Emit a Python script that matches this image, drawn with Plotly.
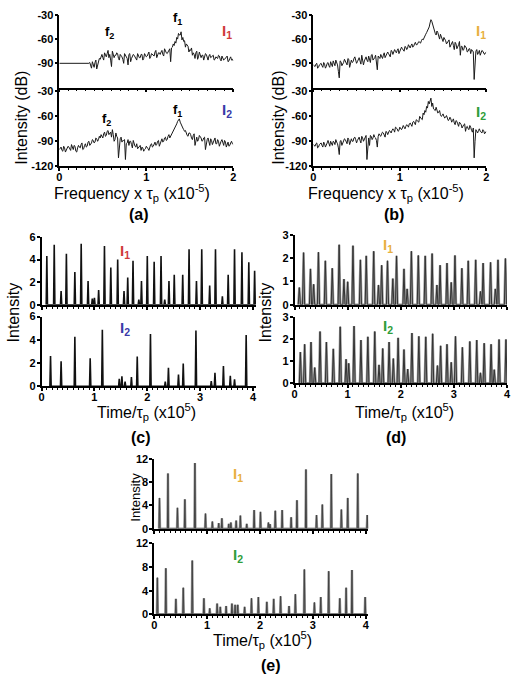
import numpy as np
import plotly.graph_objects as go

W, H = 512, 690

# ---------------- data ----------------
FREQ = np.linspace(0, 2, 101).tolist()
FREQ_MID = np.linspace(0.01, 1.99, 100).tolist()

SPEC_A_I1 = [-90]*18 + [
    -92, -88, -95, -86, -93, -84, -80, -83, -77, -82, -74, -79, -94, -78, -80, -77, -84, -79,
    -82, -90, -80, -84, -79, -88, -81, -80, -85, -78, -83, -79, -86, -78, -82, -77, -84, -78,
    -80, -76, -83, -77, -79, -74, -81, -75, -78, -73, -88, -70, -68, -65, -60, -55, -51, -58,
    -62, -66, -69, -73, -71, -77, -84, -75, -82, -79, -80, -86, -78, -84, -81, -83, -80, -86,
    -82, -84, -81, -87, -83, -85, -82, -88, -84, -86, -83, -87]
SPEC_A_I1_MID = [-90]*17 + [
    -89, -96, -91, -89, -97, -88, -85, -79,
    -86, -80, -78, -83, -86, -75, -83, -80, -78, -86, -80, -85, -78, -82, -92, -78, -84, -79, -82, -86, -80, -83, -79, -84, -80,
    -81, -76, -82, -79, -81, -74, -80, -77, -76, -79, -72, -77, -76, -72, -71, -66, -63, -58, -53, -55, -61, -63, -70, -67, -76,
    -74, -80, -79, -77, -85, -76, -83, -80, -81, -79, -86, -79, -82, -80, -85, -83, -80, -85, -81, -86, -84, -81, -87, -82, -85]

SPEC_A_I2 = [
    -100, -97, -102, -98, -101, -96, -99, -94, -100, -96, -103, -95, -98, -92, -99, -93, -96, -90,
    -94, -88, -92, -86, -90, -84, -82, -86, -79, -83, -77, -80, -85, -82, -88, -84, -110, -87,
    -91, -89, -112, -92, -95, -90, -98, -93, -97, -99, -96, -101, -98, -100, -96, -99, -95, -93,
    -96, -91, -94, -89, -92, -87, -90, -85, -88, -82, -84, -79, -76, -72, -66, -63, -70, -74,
    -78, -81, -84, -80, -86, -83, -95, -85, -88, -84, -90, -86, -100, -88, -92, -87, -94, -89,
    -93, -88, -96, -90, -94, -89, -97, -91, -95, -90, -94]
SPEC_A_I2_MID = [
    -99, -101, -96, -103, -98, -97, -101, -97, -95, -102, -98, -97, -94, -100, -95, -97, -91, -95, -92, -89, -91, -87, -88, -86, -84,
    -81, -84, -78, -82, -79, -76, -90, -80, -86, -91, -85, -89, -88, -93, -88, -90, -94, -89, -96, -93, -98, -95, -97, -102, -99,
    -97, -101, -94, -97, -92, -95, -90, -96, -88, -91, -86, -89, -84, -86, -81, -78, -74, -69, -64, -67, -72, -76, -77, -83, -80,
    -82, -88, -81, -87, -90, -83, -86, -89, -85, -92, -86, -95, -89, -91, -86, -93, -90, -92, -88, -95, -91, -93, -96, -92, -93]

SPEC_B_I1 = [
    -92, -94, -90, -95, -91, -93, -89, -96, -90, -93, -88, -94, -89, -86, -92, -108, -88, -91,
    -85, -90, -84, -95, -86, -88, -82, -90, -84, -87, -80, -92, -83, -86, -81, -89, -79, -85,
    -80, -98, -82, -79, -84, -77, -81, -76, -80, -74, -79, -73, -77, -72, -76, -70, -74, -69,
    -73, -67, -71, -66, -69, -64, -67, -63, -65, -60, -58, -54, -50, -45, -36, -42, -50, -55,
    -52, -60, -57, -63, -60, -66, -62, -70, -65, -68, -64, -72, -67, -80, -69, -73, -70, -76,
    -72, -78, -74, -110, -75, -79, -74, -78, -75, -79, -76]
SPEC_B_I1_MID = [
    -93, -91, -96, -92, -90, -95, -91, -94, -89, -95, -91, -87, -93, -90, -100, -87, -93, -89, -87, -92, -85, -90, -89, -84, -86,
    -88, -83, -91, -85, -87, -82, -88, -84, -80, -86, -83, -90, -81, -84, -82, -80, -83, -79, -78, -82, -75, -77, -75, -74, -78,
    -73, -72, -75, -70, -71, -69, -68, -70, -66, -67, -65, -64, -62, -61, -56, -52, -48, -40, -38, -47, -53, -50, -57, -54, -61,
    -58, -62, -64, -61, -67, -63, -73, -66, -70, -63, -69, -74, -68, -71, -75, -72, -73, -76, -95, -73, -77, -80, -74, -78, -77]

SPEC_B_I2 = [
    -94, -96, -92, -97, -93, -95, -91, -97, -92, -94, -90, -95, -91, -88, -93, -106, -89, -92,
    -87, -91, -86, -94, -87, -90, -85, -92, -86, -89, -84, -90, -85, -112, -86, -83, -88, -82,
    -86, -97, -81, -84, -79, -83, -78, -82, -77, -80, -75, -79, -74, -78, -73, -76, -71, -75,
    -70, -73, -68, -72, -66, -70, -65, -67, -62, -64, -58, -55, -50, -45, -38, -44, -52, -49,
    -56, -53, -60, -57, -62, -59, -65, -61, -67, -63, -70, -66, -72, -68, -74, -70, -78, -72,
    -76, -73, -79, -110, -76, -80, -75, -79, -76, -81, -78]
SPEC_B_I2_MID = [
    -95, -93, -98, -94, -92, -97, -93, -95, -89, -96, -93, -90, -94, -91, -98, -90, -95, -89, -88, -93, -88, -91, -90, -86, -88,
    -89, -85, -92, -86, -88, -83, -92, -95, -84, -86, -85, -89, -84, -83, -81, -80, -85, -79, -80, -78, -77, -76, -73, -75, -77,
    -75, -74, -73, -72, -71, -69, -70, -67, -68, -64, -66, -60, -63, -56, -53, -48, -42, -40, -48, -51, -53, -54, -55, -58, -59,
    -60, -61, -62, -64, -63, -65, -68, -65, -69, -67, -70, -71, -69, -73, -75, -71, -77, -74, -90, -78, -77, -78, -80, -77, -80]

# pulse trains: (time x1e5 / tau_p, peak height)
C_I1_T = [0.10, 0.24, 0.37, 0.47, 0.63, 0.75, 0.88, 0.96, 1.00, 1.08, 1.19, 1.31, 1.44, 1.56, 1.63,
          1.73, 1.84, 1.89, 2.00, 2.13, 2.26, 2.33, 2.41, 2.51, 2.67, 2.79, 2.93, 3.03, 3.18, 3.29,
          3.42, 3.53, 3.65, 3.79, 3.92, 4.03]
C_I1_H = [4.3, 5.3, 1.2, 4.5, 2.9, 5.4, 2.1, 0.55, 0.6, 1.3, 5.2, 3.3, 4.0, 1.2, 2.4,
          3.9, 0.45, 2.1, 4.3, 3.8, 4.3, 0.45, 2.1, 2.65, 2.65, 4.9, 2.1, 4.9, 1.7, 4.9,
          0.75, 2.65, 4.9, 4.65, 3.75, 3.0]
C_I2_T = [0.17, 0.37, 0.63, 0.92, 1.15, 1.47, 1.52, 1.58, 1.70, 1.81, 2.06, 2.34, 2.40, 2.59, 2.68,
          2.92, 3.21, 3.28, 3.44, 3.57, 3.65, 3.87]
C_I2_H = [2.6, 2.15, 4.25, 2.4, 4.85, 0.65, 0.85, 0.4, 0.8, 2.55, 4.5, 0.4, 1.6, 1.0, 1.95,
          4.8, 0.45, 1.15, 1.75, 0.9, 0.6, 4.4]

D_I1_T = [0.09, 0.17, 0.30, 0.36, 0.45, 0.58, 0.71, 0.84, 0.93, 1.00, 1.10, 1.24, 1.35, 1.49, 1.58,
          1.64, 1.75, 1.85, 1.92, 2.06, 2.12, 2.20, 2.33, 2.46, 2.59, 2.68, 2.74, 2.87, 2.95, 3.02,
          3.15, 3.27, 3.41, 3.50, 3.55, 3.69, 3.78, 3.83, 3.97]
D_I1_H = [0.74, 2.24, 1.54, 0.88, 2.26, 1.89, 1.57, 2.58, 1.1, 0.99, 2.54, 1.93, 2.1, 2.3, 0.85,
          1.7, 1.89, 1.12, 2.1, 1.54, 0.68, 2.3, 2.12, 2.1, 2.2, 0.85, 1.7, 1.79, 0.96, 2.12,
          1.57, 1.89, 1.93, 0.57, 1.79, 1.82, 0.68, 1.93, 1.99]
D_I2_T = [0.11, 0.19, 0.31, 0.38, 0.48, 0.60, 0.73, 0.86, 0.97, 1.02, 1.12, 1.25, 1.38, 1.51, 1.59,
          1.66, 1.78, 1.86, 1.95, 2.06, 2.13, 2.21, 2.34, 2.47, 2.60, 2.69, 2.75, 2.87, 2.95, 3.03,
          3.16, 3.30, 3.43, 3.50, 3.57, 3.70, 3.76, 3.85, 3.98]
D_I2_H = [1.42, 1.78, 1.88, 0.72, 2.36, 1.88, 1.57, 2.58, 1.1, 0.91, 2.61, 1.97, 2.12, 2.36, 0.84,
          1.59, 1.88, 1.13, 2.07, 1.54, 0.65, 2.29, 2.14, 2.12, 2.26, 0.81, 1.71, 1.78, 0.96, 2.14,
          1.64, 1.91, 1.97, 0.48, 1.83, 1.78, 0.62, 2.0, 2.0]

E_I1_T = [0.10, 0.26, 0.44, 0.58, 0.77, 0.97, 1.10, 1.22, 1.28, 1.41, 1.45, 1.55, 1.63, 1.75, 1.89,
          2.01, 2.16, 2.19, 2.29, 2.42, 2.59, 2.70, 2.87, 3.07, 3.18, 3.35, 3.54, 3.66, 3.85, 4.03]
E_I1_H = [5.3, 9.5, 3.6, 5.05, 11.3, 2.6, 1.24, 0.95, 1.8, 0.84, 1.07, 1.4, 2.25, 0.84, 3.2,
          2.9, 1.07, 0.8, 3.1, 3.2, 1.97, 4.9, 10.2, 2.36, 4.16, 9.4, 3.3, 5.3, 9.5, 2.36]
E_I2_T = [0.06, 0.22, 0.41, 0.55, 0.72, 0.94, 1.05, 1.19, 1.25, 1.36, 1.47, 1.53, 1.58, 1.71, 1.84,
          1.97, 2.13, 2.26, 2.39, 2.55, 2.67, 2.84, 3.03, 3.15, 3.30, 3.51, 3.63, 3.74, 3.99]
E_I2_H = [6.2, 7.8, 2.6, 4.5, 9.1, 2.7, 1.0, 1.8, 1.25, 1.4, 1.8, 1.6, 1.6, 1.25, 2.7,
          2.9, 2.1, 2.6, 3.05, 1.4, 3.4, 7.6, 2.0, 2.9, 7.3, 2.7, 4.5, 7.5, 2.9]


def spikes(ts, hs, dt):
    x, y = [], []
    for t, h in zip(ts, hs):
        x += [t - dt, t, t + dt]
        y += [0, h, 0]
    return x, y


def merge(main, mid):
    x, y = [], []
    for i in range(len(mid)):
        x += [FREQ[i], FREQ_MID[i]]
        y += [main[i], mid[i]]
    x.append(FREQ[-1])
    y.append(main[-1])
    return x, y


# ---------------- layout geometry (pixels) ----------------
panels = [
    (57, 233, [0, 2], 9, 83, [-120, -30], [-90, -60, -30], False),
    (57, 233, [0, 2], 87, 163, [-120, -30], [-120, -90, -60, -30], True),
    (314, 489, [0, 2], 9, 83, [-120, -30], [-90, -60, -30], False),
    (314, 489, [0, 2], 87, 163, [-120, -30], [-120, -90, -60, -30], True),
    (39, 39 + 4.06 * 53.5, [0, 4.06], 235, 304, [0, 6], [0, 2, 4, 6], False),
    (39, 39 + 4.06 * 53.5, [0, 4.06], 316, 387, [0, 6], [0, 2, 4, 6], True),
    (295, 510, [0, 4], 233, 304, [0, 3], [0, 1, 2, 3], False),
    (295, 510, [0, 4], 317, 384, [0, 3], [0, 1, 2, 3], True),
    (153, 153 + 4.05 * 53.5, [0, 4.05], 461, 532, [0, 12], [0, 4, 8, 12], False),
    (153, 153 + 4.05 * 53.5, [0, 4.05], 547, 619, [0, 12], [0, 4, 8, 12], True),
]

FONT = "Arial, Liberation Sans, sans-serif"
fig = go.Figure()
layout = dict(width=W, height=H, margin=dict(l=0, r=0, t=0, b=0),
              paper_bgcolor="white", plot_bgcolor="white", showlegend=False)

for i, (x0, x1, xr, pt, pb, yr, yt, showx) in enumerate(panels):
    n = i + 1
    xa = "xaxis" if n == 1 else f"xaxis{n}"
    ya = "yaxis" if n == 1 else f"yaxis{n}"
    xtv = [0, 1, 2] if xr[1] <= 2 else [0, 1, 2, 3, 4]
    layout[xa] = dict(domain=[x0 / W, x1 / W], range=xr, anchor=f"y{n}" if n > 1 else "y",
                      showline=True, linecolor="black", linewidth=1.6, showgrid=False, zeroline=False,
                      ticks="outside", ticklen=3, tickwidth=1.5, tickcolor="black",
                      tickvals=xtv, showticklabels=showx, ticklabelstandoff=-3,
                      tickfont=dict(family=FONT, size=11, color="black", weight="bold"),
                      minor=dict(ticks="outside", ticklen=2, tickwidth=1, dtick=0.1, tickcolor="black"))
    layout[ya] = dict(domain=[1 - pb / H, 1 - pt / H], range=yr, anchor=f"x{n}" if n > 1 else "x",
                      showline=True, linecolor="black", linewidth=1.6, showgrid=False, zeroline=False,
                      ticks="outside", ticklen=3, tickwidth=1.5, tickcolor="black",
                      tickvals=yt, ticktext=[str(v) for v in yt], ticklabelstandoff=-1,
                      tickfont=dict(family=FONT, size=11, color="black", weight="bold"))

def xy(n):
    return ("x" if n == 1 else f"x{n}"), ("y" if n == 1 else f"y{n}")

# spectra
for n, spec, mid in [(1, SPEC_A_I1, SPEC_A_I1_MID), (2, SPEC_A_I2, SPEC_A_I2_MID),
                     (3, SPEC_B_I1, SPEC_B_I1_MID), (4, SPEC_B_I2, SPEC_B_I2_MID)]:
    xa, ya = xy(n)
    sx, sy = merge(spec, mid)
    fig.add_trace(go.Scatter(x=sx, y=sy, mode="lines", line=dict(color="#1a1a1a", width=1),
                             xaxis=xa, yaxis=ya, hoverinfo="skip"))

# pulse trains
for n, ts, hs, dt, col, w, under in [
        (5, C_I1_T, C_I1_H, 0.012, "#111111", 1.6, None),
        (6, C_I2_T, C_I2_H, 0.012, "#111111", 1.6, None),
        (7, D_I1_T, D_I1_H, 0.02, "#333333", 1.0, "#9a9a9a"),
        (8, D_I2_T, D_I2_H, 0.02, "#333333", 1.0, "#9a9a9a"),
        (9, E_I1_T, E_I1_H, 0.01, "#444444", 1.0, "#9a9a9a"),
        (10, E_I2_T, E_I2_H, 0.01, "#444444", 1.0, "#9a9a9a")]:
    xa, ya = xy(n)
    sx, sy = spikes(ts, hs, dt)
    if under:
        fig.add_trace(go.Scatter(x=sx, y=sy, mode="lines", line=dict(color=under, width=2.4),
                                 xaxis=xa, yaxis=ya, hoverinfo="skip"))
    fig.add_trace(go.Scatter(x=sx, y=sy, mode="lines", line=dict(color=col, width=w),
                             xaxis=xa, yaxis=ya, hoverinfo="skip"))

ann = []
def text(px, py, s, size=16, color="black", angle=0, bold=False):
    ann.append(dict(x=px / W, y=1 - py / H, xref="paper", yref="paper", text=s, showarrow=False,
                    xanchor="center", yanchor="middle", textangle=angle,
                    font=dict(family=FONT, size=size, color=color, weight="bold" if bold else "normal")))

RED, BLUE, ORANGE, GREEN = "#d03a3a", "#3a3aa8", "#e8b040", "#2f9e3a"
I1 = "I<sub>1</sub>"
I2 = "I<sub>2</sub>"
# y titles
text(18, 114, "Intensity (dB)", 16, angle=-90)
text(278, 114, "Intensity (dB)", 16, angle=-90)
text(11, 312, "Intensity", 16, angle=-90)
text(266, 312, "Intensity", 16, angle=-90)
text(134, 500, "Intensity", 13, angle=-90)
# x titles
text(131, 190, "Frequency x τ<sub>p</sub> (x10<sup>-5</sup>)", 16)
text(388, 190, "Frequency x τ<sub>p</sub> (x10<sup>-5</sup>)", 16)
text(145, 413, "Time/τ<sub>p</sub> (x10<sup>5</sup>)", 16)
text(406, 413, "Time/τ<sub>p</sub> (x10<sup>5</sup>)", 16)
text(263, 645, "Time/τ<sub>p</sub> (x10<sup>5</sup>)", 16)
# panel letters
text(138, 212, "(a)", 16, bold=True)
text(396, 212, "(b)", 16, bold=True)
text(140, 439, "(c)", 16, bold=True)
text(398, 439, "(d)", 16, bold=True)
text(271, 671, "(e)", 16, bold=True)
# f labels
text(108, 27, "f<sub>2</sub>", 13, bold=True)
text(177, 13, "f<sub>1</sub>", 13, bold=True)
text(105, 116, "f<sub>2</sub>", 13, bold=True)
text(177, 106, "f<sub>1</sub>", 13, bold=True)
# I labels
text(227, 26, I1, 15, RED, bold=True)
text(227, 106, I2, 15, BLUE, bold=True)
text(484, 26, I1, 15, ORANGE, bold=True)
text(484, 108, I2, 15, GREEN, bold=True)
text(123, 250, I1, 15, RED, bold=True)
text(123, 328, I2, 15, BLUE, bold=True)
text(390, 244, I1, 15, ORANGE, bold=True)
text(390, 326, I2, 15, GREEN, bold=True)
text(238, 477, I1, 15, ORANGE, bold=True)
text(238, 559, I2, 15, GREEN, bold=True)

layout["annotations"] = ann
fig.update_layout(**layout)
fig.write_html("out.html")
